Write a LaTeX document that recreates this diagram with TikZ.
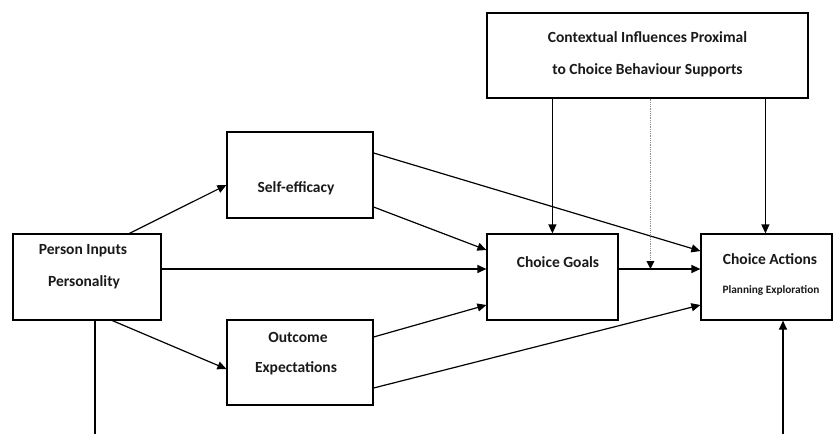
\documentclass[tikz,border=0pt]{standalone}
\usepackage{fontspec}
\setmainfont{Carlito}
\usetikzlibrary{arrows.meta,calc}
\begin{document}
\begin{tikzpicture}[x=1pt,y=1pt,
  box/.style={draw=black, line width=1.2pt, rectangle, inner sep=0pt},
  txt/.style={font=\bfseries\fontsize{15.5}{17}\selectfont, inner sep=0pt, text=black!90},
  smalltxt/.style={font=\bfseries\fontsize{11.3}{13}\selectfont, inner sep=0pt, text=black!90},
  conn/.style={line width=1.2pt, -{Triangle[length=9pt,width=8pt]}},
  plain/.style={line width=1.2pt}]
\useasboundingbox (0,0) rectangle (835,-434);
% boxes
\node[box, minimum width=321pt, minimum height=85pt] (ctx) at (647.5,-55.5) {};
\node[box, minimum width=148pt, minimum height=86pt] (pi) at (87,-277) {};
\node[box, minimum width=146pt, minimum height=86pt] (se) at (300,-175) {};
\node[box, minimum width=146pt, minimum height=85pt] (oe) at (300,-362.5) {};
\node[box, minimum width=131pt, minimum height=86pt] (cg) at (552.5,-277) {};
\node[box, minimum width=131pt, minimum height=86pt] (ca) at (766.5,-277) {};
% texts
\node[txt] (ctx1) at (647.5,-37) {Contextual\ Influences\ Proximal};
\node[txt] (ctx2) at (647.5,-70) {to Choice Behaviour\ Supports};
\node[txt] (pi1) at (83,-251) {Person\ Inputs};
\node[txt] (pi2) at (84,-282) {Personality};
\node[txt] (se1) at (296,-188) {Self-efficacy};
\node[txt] (oe1) at (298,-337) {Outcome};
\node[txt] (oe2) at (296,-368) {Expectations};
\node[txt] (cg1) at (558,-262) {Choice Goals};
\node[txt] (ca1) at (770,-259) {Choice\ Actions};
\node[smalltxt] (ca2) at (771,-290) {Planning\ Exploration};
% free ends
\coordinate (pbot) at (95,-434);
\coordinate (abot) at (783,-434);
% connectors
\draw[conn] ($(pi.north west)+(117,0)$) -- ($(se.west)+(0,-10)$);
\draw[conn] ($(pi.east)+(0,8)$) -- ($(cg.west)+(0,8)$);
\draw[conn] ($(pi.south west)+(100,0)$) -- ($(oe.west)+(0,-6.5)$);
\draw[plain] (pbot |- pi.south) -- (pbot);
\draw[conn] ($(se.east)+(0,22)$) -- ($(ca.west)+(0,26)$);
\draw[conn] ($(se.east)+(0,-32)$) -- ($(cg.west)+(0,27)$);
\draw[conn] ($(oe.east)+(0,25.5)$) -- ($(cg.west)+(0,-28)$);
\draw[conn] ($(oe.east)+(0,-25.5)$) -- ($(ca.west)+(0,-28)$);
\draw[conn] ($(cg.east)+(0,8)$) -- ($(ca.west)+(0,8)$);
\coordinate (c1) at ($(ctx.south west)+(66,0)$);
\coordinate (c2) at ($(ctx.south west)+(279,0)$);
\coordinate (c3) at ($(ctx.south west)+(164,0)$);
\draw[conn] (c1) -- (c1 |- cg.north);
\draw[conn] (c2) -- (c2 |- ca.north);
\draw[black!45, line width=0.8pt, densely dotted] (c3) -- ($(c3 |- cg.east)+(0,17)$);
\fill[black] ($(c3 |- cg.east)+(0,8)$) -- ++(-4,8) -- ++(8,0) -- cycle;
\draw[conn] (abot) -- (abot |- ca.south);
\end{tikzpicture}
\end{document}
